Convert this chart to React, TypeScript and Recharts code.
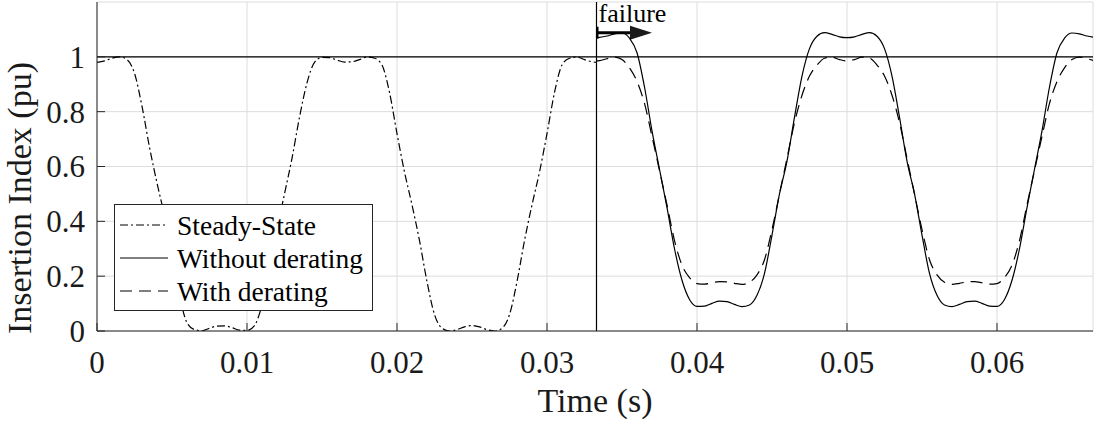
import { CartesianGrid, Line, LineChart, ReferenceLine, XAxis, YAxis } from 'recharts';

// time (s) of the steady-state trace, up to the failure instant
const steadyTime = [
    0, 0.0005, 0.001, 0.0015, 0.002, 0.0025, 0.003, 0.0035, 0.004, 0.0045, 0.005, 0.0055, 0.006, 0.0065, 0.007, 0.0075,
    0.008, 0.0085, 0.009, 0.0095, 0.01, 0.0105, 0.011, 0.0115, 0.012, 0.0125, 0.013, 0.0135, 0.014, 0.0145, 0.015, 0.0155,
    0.016, 0.0165, 0.017, 0.0175, 0.018, 0.0185, 0.019, 0.0195, 0.02, 0.0205, 0.021, 0.0215, 0.022, 0.0225, 0.023, 0.0235,
    0.024, 0.0245, 0.025, 0.0255, 0.026, 0.0265, 0.027, 0.0275, 0.028, 0.0285, 0.029, 0.0295, 0.03, 0.0305, 0.031, 0.0315,
    0.032, 0.0325, 0.033, 0.0333,
];
const steadyState = [
    0.98, 0.985, 0.995, 1.0, 0.99, 0.94, 0.82, 0.67, 0.54, 0.42, 0.28, 0.13, 0.03, 0.005, 0.001, 0.01,
    0.018, 0.019, 0.012, 0.003, 0.002, 0.02, 0.095, 0.22, 0.37, 0.5, 0.63, 0.78, 0.905, 0.98, 0.998, 0.997,
    0.988, 0.981, 0.982, 0.99, 0.999, 0.995, 0.97, 0.87, 0.72, 0.58, 0.46, 0.33, 0.18, 0.06, 0.01, 0.0,
    0.005, 0.015, 0.02, 0.015, 0.005, 0.0, 0.01, 0.06, 0.18, 0.33, 0.46, 0.58, 0.72, 0.87, 0.97, 0.995,
    0.999, 0.99, 0.982, 0.98,
];

// time (s) after the failure
const failureTime = [
    0.0333, 0.0335, 0.034, 0.0345, 0.035, 0.0355, 0.036, 0.0365, 0.037, 0.0375, 0.038, 0.0385, 0.039, 0.0395, 0.04, 0.0405,
    0.041, 0.0415, 0.042, 0.0425, 0.043, 0.0435, 0.044, 0.0445, 0.045, 0.0455, 0.046, 0.0465, 0.047, 0.0475, 0.048, 0.0485,
    0.049, 0.0495, 0.05, 0.0505, 0.051, 0.0515, 0.052, 0.0525, 0.053, 0.0535, 0.054, 0.0545, 0.055, 0.0555, 0.056, 0.0565,
    0.057, 0.0575, 0.058, 0.0585, 0.059, 0.0595, 0.06, 0.0605, 0.061, 0.0615, 0.062, 0.0625, 0.063, 0.0635, 0.064, 0.0645,
    0.065, 0.0655, 0.066, 0.0665,
];
const withoutDerating = [
    1.07, 1.071, 1.076, 1.084, 1.087, 1.068, 1.015, 0.89, 0.73, 0.59, 0.45, 0.3, 0.185, 0.115, 0.09, 0.091,
    0.101, 0.109, 0.107, 0.097, 0.089, 0.095, 0.13, 0.21, 0.35, 0.5, 0.62, 0.78, 0.93, 1.03, 1.075, 1.088,
    1.082, 1.073, 1.07, 1.073, 1.082, 1.088, 1.075, 1.03, 0.93, 0.78, 0.62, 0.5, 0.35, 0.21, 0.13, 0.095,
    0.089, 0.097, 0.107, 0.109, 0.101, 0.091, 0.09, 0.115, 0.185, 0.3, 0.45, 0.59, 0.73, 0.89, 1.015, 1.068,
    1.087, 1.084, 1.076, 1.071,
];
const withDerating = [
    0.985, 0.986, 0.993, 0.999, 0.99, 0.96, 0.91, 0.83, 0.71, 0.585, 0.46, 0.33, 0.24, 0.195, 0.173, 0.171,
    0.176, 0.18, 0.179, 0.174, 0.17, 0.178, 0.205, 0.26, 0.37, 0.5, 0.63, 0.76, 0.86, 0.93, 0.97, 0.995,
    0.999, 0.99, 0.985, 0.99, 0.999, 0.995, 0.97, 0.93, 0.86, 0.76, 0.63, 0.5, 0.37, 0.26, 0.205, 0.178,
    0.17, 0.174, 0.179, 0.18, 0.176, 0.171, 0.173, 0.195, 0.24, 0.33, 0.46, 0.585, 0.71, 0.83, 0.91, 0.96,
    0.99, 0.999, 0.993, 0.986,
];

const X_TICKS = [0, 0.01, 0.02, 0.03, 0.04, 0.05, 0.06];
const Y_TICKS = [0, 0.2, 0.4, 0.6, 0.8, 1];
const X_MAX = 0.0664;
const Y_MAX = 1.2;
const FAILURE_TIME = 0.0333;
const ARROW_LEVEL = 1.088;
const ARROW_END = 0.037;

const FONT = "'Liberation Serif', 'Times New Roman', serif";
const AXIS = '#262626';
const TEXT = '#1a1a1a';
const DASH_DOT = '8 3 2 3';
const DASHED = '12 7';

const serif = (size: number) => ({ fontFamily: FONT, fontSize: size });

const data = [
    ...steadyTime.map((t, i) => ({ t, ss: steadyState[i] })),
    ...failureTime.map((t, i) => ({ t, wo: withoutDerating[i], wd: withDerating[i] })),
];

function BottomTick({ x, y, payload }: any) {
    return (
        <g>
            <line x1={x} x2={x} y1={y} y2={y - 8} stroke={AXIS} strokeWidth={1} />
            <text x={x} y={y + 42} textAnchor="middle" style={serif(31)} fill={TEXT}>
                {String(payload.value)}
            </text>
        </g>
    );
}

function TopTick({ x, y }: any) {
    return <line x1={x} x2={x} y1={y} y2={y + 8} stroke={AXIS} strokeWidth={1} />;
}

function LeftTick({ x, y, payload }: any) {
    return (
        <g>
            <line x1={x} x2={x + 8} y1={y} y2={y} stroke={AXIS} strokeWidth={1} />
            <text x={x - 12} y={y} dy="0.35em" textAnchor="end" style={serif(31)} fill={TEXT}>
                {String(payload.value)}
            </text>
        </g>
    );
}

function XTitle({ viewBox }: any) {
    return (
        <text x={viewBox.x + 498} y={viewBox.y + 81} textAnchor="middle" style={serif(34)} fill={TEXT}>
            Time (s)
        </text>
    );
}

function YTitle({ viewBox }: any) {
    const cx = viewBox.x + 31;
    const cy = viewBox.y + 196;
    return (
        <text x={cx} y={cy} transform={`rotate(-90 ${cx} ${cy})`} textAnchor="middle" style={serif(34)} fill={TEXT}>
            Insertion Index (pu)
        </text>
    );
}

function FailureArrow({ x1, y1, x2, y2 }: any) {
    return (
        <g>
            <line x1={x1 + 1} x2={x1 + 1} y1={y1 - 6} y2={y1 + 6} stroke="#000" strokeWidth={2} />
            <line x1={x1} x2={x2 - 20} y1={y1} y2={y2} stroke="#000" strokeWidth={3} />
            <polygon points={`${x2 - 22},${y2 - 7} ${x2},${y2} ${x2 - 22},${y2 + 7}`} fill="#1a1a1a" />
            <text x={x1 + 2} y={y1 - 11} style={serif(26)} fill="#000">
                failure
            </text>
        </g>
    );
}

const LEGEND_ROWS = [
    { label: 'Steady-State', dash: DASH_DOT },
    { label: 'Without derating', dash: undefined },
    { label: 'With derating', dash: DASHED },
];

function LegendBox() {
    return (
        <svg width={260} height={108} style={{ position: 'absolute', left: 114, top: 204 }}>
            <rect x={0.5} y={0.5} width={258} height={106} fill="#fff" stroke={AXIS} strokeWidth={1} />
            {LEGEND_ROWS.map((row, i) => {
                const cy = 21 + i * 33;
                return (
                    <g key={row.label}>
                        <line x1={6} x2={54} y1={cy} y2={cy} stroke="#000" strokeWidth={1.2} strokeDasharray={row.dash} />
                        <text x={63} y={cy} dy="0.35em" style={serif(27.5)} fill="#000">
                            {row.label}
                        </text>
                    </g>
                );
            })}
        </svg>
    );
}

export default function App() {
    return (
        <div style={{ position: 'absolute', left: 0, top: 0, width: 1094, height: 426, background: '#fff', fontFamily: FONT }}>
            <LineChart width={1094} height={426} data={data} margin={{ top: 2, right: 1, bottom: 0, left: 0 }}>
                <CartesianGrid stroke="#dcdcdc" strokeWidth={1} />
                <XAxis
                    dataKey="t"
                    type="number"
                    domain={[0, X_MAX]}
                    ticks={X_TICKS}
                    interval={0}
                    height={95}
                    tickSize={0}
                    tickMargin={0}
                    tickLine={false}
                    tick={<BottomTick />}
                    stroke={AXIS}
                    allowDataOverflow
                    label={<XTitle />}
                />
                <XAxis
                    xAxisId="top"
                    orientation="top"
                    dataKey="t"
                    type="number"
                    domain={[0, X_MAX]}
                    ticks={X_TICKS}
                    interval={0}
                    height={0}
                    tickSize={0}
                    tickMargin={0}
                    tickLine={false}
                    tick={<TopTick />}
                    stroke={AXIS}
                    allowDataOverflow
                />
                <YAxis
                    type="number"
                    domain={[0, Y_MAX]}
                    ticks={Y_TICKS}
                    interval={0}
                    width={97}
                    tickSize={0}
                    tickMargin={0}
                    tickLine={false}
                    tick={<LeftTick />}
                    stroke={AXIS}
                    allowDataOverflow
                    label={<YTitle />}
                />
                <YAxis yAxisId="right" orientation="right" type="number" domain={[0, Y_MAX]} width={0} tick={false} tickLine={false} stroke={AXIS} />
                <ReferenceLine y={1} stroke="#000" strokeWidth={1.2} />
                <ReferenceLine x={FAILURE_TIME} stroke="#000" strokeWidth={1.2} />
                <ReferenceLine
                    segment={[
                        { x: FAILURE_TIME, y: ARROW_LEVEL },
                        { x: ARROW_END, y: ARROW_LEVEL },
                    ]}
                    shape={FailureArrow}
                />
                <Line dataKey="ss" type="monotone" stroke="#000" strokeWidth={1.2} strokeDasharray={DASH_DOT} dot={false} activeDot={false} isAnimationActive={false} />
                <Line dataKey="wo" type="monotone" stroke="#000" strokeWidth={1.2} dot={false} activeDot={false} isAnimationActive={false} />
                <Line dataKey="wd" type="monotone" stroke="#000" strokeWidth={1.2} strokeDasharray={DASHED} dot={false} activeDot={false} isAnimationActive={false} />
            </LineChart>
            <LegendBox />
        </div>
    );
}
